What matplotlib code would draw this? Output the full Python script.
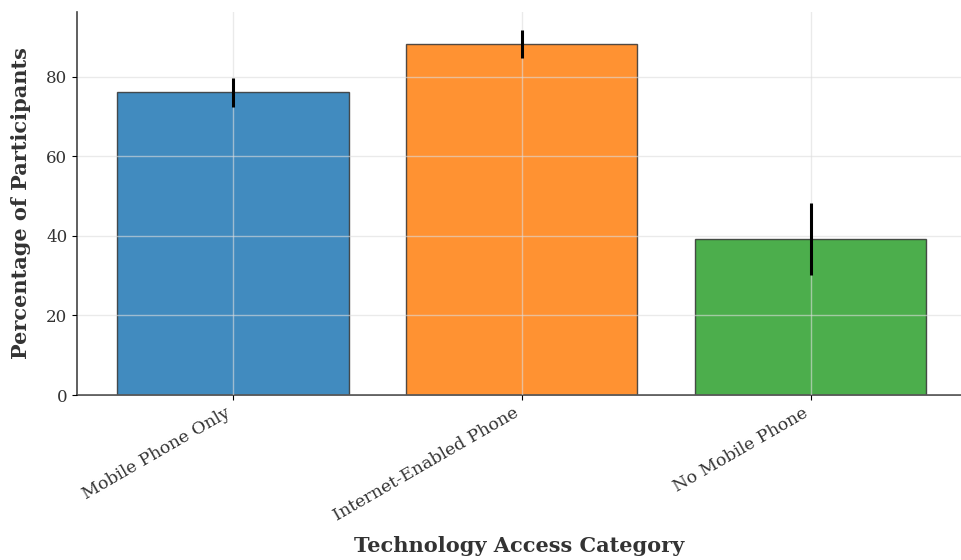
import matplotlib
matplotlib.use("Agg")
import matplotlib.pyplot as plt

categories = ["Mobile Phone Only", "Internet-Enabled Phone", "No Mobile Phone"]
values = [76.2, 88.3, 39.3]
errors = [3.65, 3.45, 9.0]
colors = ["#1f77b4", "#ff7f0e", "#2ca02c"]

plt.rcParams['font.family'] = ['DejaVu Serif']

fig = plt.figure(figsize=(9.61, 5.6), dpi=100)
ax = fig.add_axes([77/961, 165/560, (961-77)/961, 383/560])

x = list(range(len(categories)))
ax.bar(x, values, width=0.8, color=colors, alpha=0.85, edgecolor="#333333",
       linewidth=1.0, zorder=2)
ax.errorbar(x, values, yerr=errors, fmt="none", ecolor="black", elinewidth=2.2,
            capsize=0, zorder=5)
ax.grid(True, color="#dddddd", alpha=0.6, linewidth=1.0, zorder=3)
ax.set_axisbelow(False)
ax.set_xticks(x)
ax.set_xticklabels(categories, rotation=30, ha="right", fontsize=12.5, color="#333333")
ax.tick_params(axis="y", labelsize=12, labelcolor="#333333")
ax.set_xlim(-0.54, 2.52)
ax.set_ylabel("Percentage of Participants", fontsize=15, fontweight="bold",
              color="#333333", labelpad=11)
ax.set_xlabel("Technology Access Category", fontsize=15, fontweight="bold",
              color="#333333", labelpad=8)
for s in ["top", "right"]:
    ax.spines[s].set_visible(False)
for s in ["left", "bottom"]:
    ax.spines[s].set_color("#444444")
    ax.spines[s].set_linewidth(1.2)

fig.savefig("out.png", dpi=100)
